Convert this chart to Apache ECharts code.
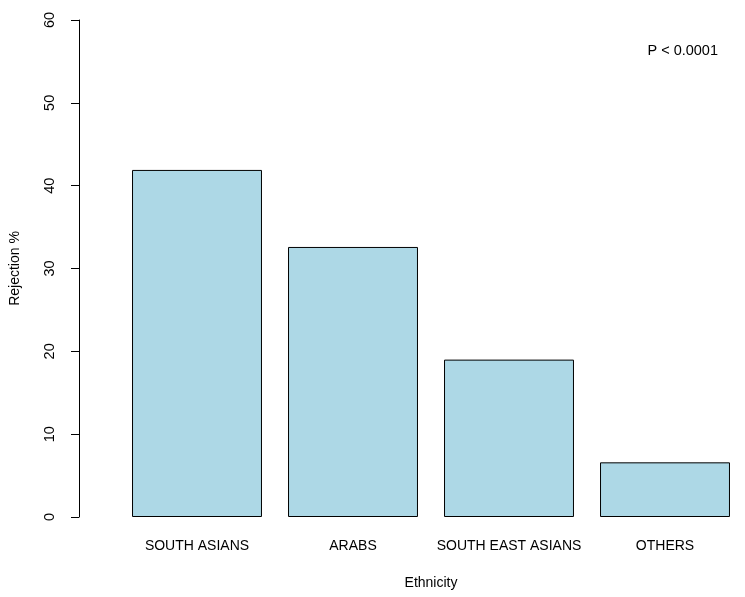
<!DOCTYPE html>
<html>
<head>
<meta charset="utf-8">
<script src="https://cdn.jsdelivr.net/npm/echarts@6/dist/echarts.min.js"></script>
<style>
  html, body { margin: 0; padding: 0; background: #fff; overflow: hidden; }
  #main { width: 745px; height: 597px; }
</style>
</head>
<body>
<div id="main"></div>
<script>
// rejection % by ethnicity
var ethnicities = ['SOUTH ASIANS', 'ARABS', 'SOUTH EAST ASIANS', 'OTHERS'];
var rejection = [41.9, 32.6, 19.0, 6.6];
var yTicks = [0, 10, 20, 30, 40, 50, 60];

var font = 'Liberation Sans, Arial, sans-serif';

var myChart = echarts.init(document.getElementById('main'));
var option = {
    backgroundColor: '#ffffff',
    animation: false,
    title: {
        text: 'P < 0.0001',
        right: 22,
        top: 38,
        textStyle: { fontFamily: font, fontSize: 14.5, fontWeight: 'normal', color: '#000' }
    },
    grid: {
        left: 118,
        right: 2,
        top: 20,
        bottom: 80
    },
    xAxis: {
        type: 'category',
        data: ethnicities,
        name: 'Ethnicity',
        nameLocation: 'middle',
        nameGap: 59,
        nameTextStyle: { fontFamily: font, fontSize: 14, color: '#000' },
        axisLine: { show: false },
        axisTick: { show: false },
        axisLabel: { interval: 0, fontFamily: font, fontSize: 14, color: '#000', margin: 22 }
    },
    yAxis: {
        type: 'value',
        min: yTicks[0],
        max: yTicks[yTicks.length - 1],
        interval: 10,
        offset: 40,
        name: 'Rejection %',
        nameLocation: 'middle',
        nameRotate: 90,
        nameGap: 57,
        nameTextStyle: { fontFamily: font, fontSize: 14, color: '#000' },
        splitLine: { show: false },
        axisLine: { show: true, lineStyle: { color: '#000', width: 1 } },
        axisTick: { show: true, length: 8, lineStyle: { color: '#000' } },
        axisLabel: { fontFamily: font, fontSize: 14.5, color: '#000', rotate: 90, margin: 22 }
    },
    series: [{
        type: 'bar',
        data: rejection,
        barCategoryGap: '16.7%',
        itemStyle: { color: '#ADD8E6', borderColor: '#000', borderWidth: 1 }
    }]
};
myChart.setOption(option);
</script>
</body>
</html>
